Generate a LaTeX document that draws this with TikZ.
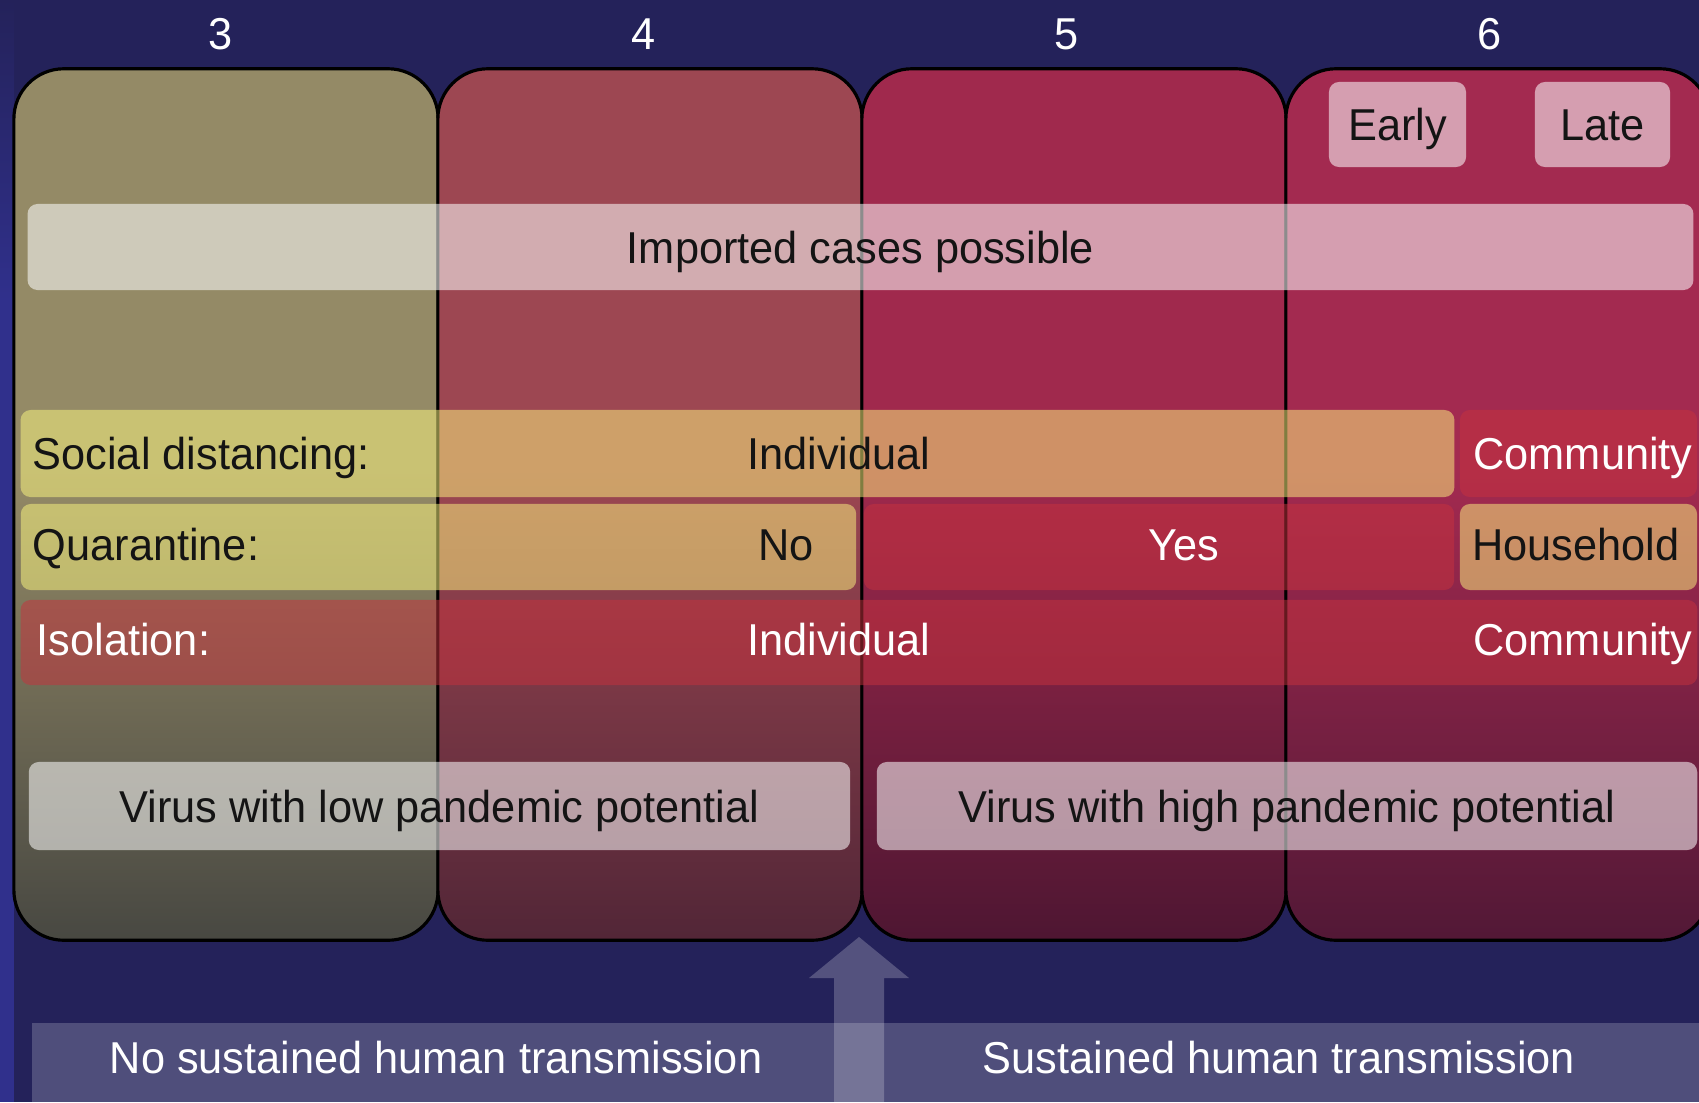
\documentclass[tikz,border=0pt]{standalone}
\usepackage{fontspec}
\setmainfont{Liberation Sans}[FakeStretch=0.97]
\usepackage{xcolor}
\usepackage{tikz}
\usetikzlibrary{positioning, calc}

\definecolor{bgNavy}{RGB}{36,34,90}
\definecolor{bgEdge}{RGB}{48,48,140}
\definecolor{barYellow}{RGB}{255,250,128}
\definecolor{barRed}{RGB}{200,50,62}
% phase colours (top / bottom)
\definecolor{pThreeTop}{RGB}{148,138,102}
\definecolor{pThreeBot}{RGB}{72,72,66}
\definecolor{pFourTop}{RGB}{157,71,82}
\definecolor{pFourBot}{RGB}{82,38,55}
\definecolor{pFiveTop}{RGB}{160,41,77}
\definecolor{pFiveBot}{RGB}{78,22,50}
\definecolor{pSixTop}{RGB}{163,42,80}
\definecolor{pSixBot}{RGB}{82,24,54}
\pgfdeclareverticalshading{phasethree}{100bp}{color(0bp)=(pThreeBot); color(25bp)=(pThreeBot); color(52bp)=(pThreeTop); color(100bp)=(pThreeTop)}
\pgfdeclareverticalshading{phasefour}{100bp}{color(0bp)=(pFourBot); color(25bp)=(pFourBot); color(52bp)=(pFourTop); color(100bp)=(pFourTop)}
\pgfdeclareverticalshading{phasefive}{100bp}{color(0bp)=(pFiveBot); color(25bp)=(pFiveBot); color(52bp)=(pFiveTop); color(100bp)=(pFiveTop)}
\pgfdeclareverticalshading{phasesix}{100bp}{color(0bp)=(pSixBot); color(25bp)=(pSixBot); color(52bp)=(pSixTop); color(100bp)=(pSixTop)}

\begin{document}
\begin{tikzpicture}[
    x=0.01cm, y=-0.01cm,
    txt/.style={font=\fontsize{12.7}{15}\selectfont, text height=0.32cm, text depth=0pt, inner sep=0pt},
    darktxt/.style={txt, text=black!92},
    lighttxt/.style={txt, text=white},
    phase/.style={rectangle, rounded corners=0.5cm, draw=black, line width=0.9pt, minimum width=4.24cm, minimum height=8.71cm},
    whitebar/.style={rectangle, rounded corners=0.1cm, fill=white, fill opacity=0.55, text opacity=1, inner sep=0pt, txt, text=black!92},
    yellowbar/.style={rectangle, rounded corners=0.1cm, fill=barYellow, fill opacity=0.5, inner sep=0pt},
    redbar/.style={rectangle, rounded corners=0.1cm, fill=barRed, fill opacity=0.5, inner sep=0pt},
    spreadbar/.style={rectangle, fill=white, fill opacity=0.2, inner sep=0pt}
]
\useasboundingbox (0,0) rectangle (1699,1102);
\clip (0,0) rectangle (1699,1102);

% Background
\fill[bgNavy] (0,0) rectangle (1699,1102);
\shade[top color=bgNavy, bottom color=bgEdge] (0,0) rectangle (14,300);
\fill[bgEdge] (0,300) rectangle (14,1102);

% Phases
\node[phase, shading=phasethree] (p3) at (226,504.5) {};
\node[phase, shading=phasefour] (p4) at (650,504.5) {};
\node[phase, shading=phasefive] (p5) at (1074,504.5) {};
\node[phase, shading=phasesix] (p6) at (1498,504.5) {};

% Phase numbers
\node[lighttxt] (n3) at (221,33) {3};
\node[lighttxt] (n4) at (644,33) {4};
\node[lighttxt] (n5) at (1067,33) {5};
\node[lighttxt] (n6) at (1490,33) {6};

% Early / late
\node[whitebar, minimum width=1.37cm, minimum height=0.85cm] (early) at (1397.5,124.5) {Early};
\node[whitebar, minimum width=1.35cm, minimum height=0.85cm] (late) at (1602.5,124.5) {Late};

% Imported cases
\node[whitebar, minimum width=16.65cm, minimum height=0.86cm] (imported) at (860.5,247) {Imported cases possible};

% Social distancing
\node[yellowbar, minimum width=14.33cm, minimum height=0.87cm] (sdbar) at (737.5,453.5) {};
\node[redbar, minimum width=2.37cm, minimum height=0.87cm] (sdcom) at (1578.5,453.5) {};
\node[darktxt, anchor=west] (sdlbl) at (32,453.5) {Social distancing:};
\node[darktxt] (sdind) at (839,453.5) {Individual};
\node[lighttxt] (sdcomtxt) at (1583,453.5) {Community};

% Quarantine
\node[yellowbar, minimum width=8.35cm, minimum height=0.86cm] (qbar) at (438.5,547) {};
\node[redbar, minimum width=5.90cm, minimum height=0.86cm] (qyes) at (1159,547) {};
\node[yellowbar, minimum width=2.37cm, minimum height=0.86cm] (qhouse) at (1578.5,547) {};
\node[darktxt, anchor=west] (qlbl) at (32,544) {Quarantine:};
\node[darktxt] (qno) at (786,544) {No};
\node[lighttxt] (qyestxt) at (1184,544) {Yes};
\node[darktxt] (qhousetxt) at (1576,544) {Household};

% Isolation
\node[redbar, minimum width=16.76cm, minimum height=0.85cm] (isobar) at (859,642.5) {};
\node[lighttxt, anchor=west] (isolbl) at (36,639) {Isolation:};
\node[lighttxt] (isoind) at (839,639) {Individual};
\node[lighttxt] (isocom) at (1583,639) {Community};

% Pandemic potential
\node[whitebar, minimum width=8.21cm, minimum height=0.88cm] (low) at (439.5,806) {Virus with low pandemic potential};
\node[whitebar, minimum width=8.20cm, minimum height=0.88cm] (high) at (1287,806) {Virus with high pandemic potential};

% Transmission
\node[spreadbar, minimum width=16.78cm, minimum height=0.87cm] (spread) at (871,1066.5) {};
\node[lighttxt] (nospread) at (436,1057) {No sustained human transmission};
\node[lighttxt] (sustained) at (1279,1057) {Sustained human transmission};

% Arrow
\coordinate (tip) at (859,937);
\fill[white, fill opacity=0.22] (tip) -- ($(tip)+(50,41)$) -- ($(tip)+(25,41)$) -- ($(tip)+(25,175)$)
    -- ($(tip)+(-25,175)$) -- ($(tip)+(-25,41)$) -- ($(tip)+(-50,41)$) -- cycle;

\end{tikzpicture}
\end{document}
